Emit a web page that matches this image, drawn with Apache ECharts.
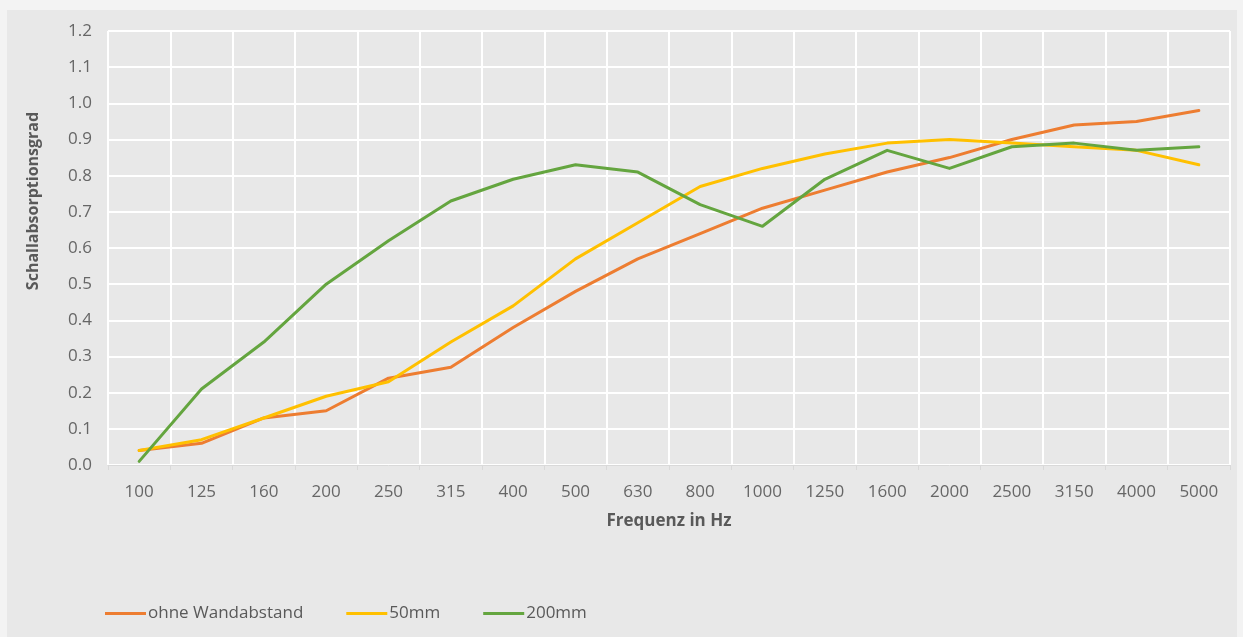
<!DOCTYPE html>
<html>
<head>
<meta charset="utf-8">
<script src="https://cdn.jsdelivr.net/npm/echarts@6/dist/echarts.min.js"></script>
<style>
html,body{margin:0;padding:0;background:#f3f3f3;}
#chart{width:1243px;height:637px;}
</style>
</head>
<body>
<div id="chart"></div>
<script>
const categories = ['100','125','160','200','250','315','400','500','630','800','1000','1250','1600','2000','2500','3150','4000','5000'];
const ohneWandabstand = [0.04,0.06,0.13,0.15,0.24,0.27,0.38,0.48,0.57,0.64,0.71,0.76,0.81,0.85,0.90,0.94,0.95,0.98];
const mm50 = [0.04,0.07,0.13,0.19,0.23,0.34,0.44,0.57,0.67,0.77,0.82,0.86,0.89,0.90,0.89,0.88,0.87,0.83];
const mm200 = [0.01,0.21,0.34,0.50,0.62,0.73,0.79,0.83,0.81,0.72,0.66,0.79,0.87,0.82,0.88,0.89,0.87,0.88];
const seriesNames = ['ohne Wandabstand','50mm','200mm'];

const FONT = 'Open Sans';
const chart = echarts.init(document.getElementById('chart'));
const mk = (name, data, color) => ({
  name, type: 'line', data, symbol: 'none', smooth: false,
  lineStyle: {color, width: 3, cap: 'round', join: 'round'},
  itemStyle: {color}
});
chart.setOption({
  backgroundColor: '#f3f3f3',
  animation: false,
  graphic: [{type:'rect', shape:{x:7,y:10,width:1230,height:627}, style:{fill:'#e8e8e8'}, z:-10, silent:true}],
  grid: {left:108, right:13, top:31, bottom:172, containLabel:false},
  legend: {
    left: 105, top: 605, padding: 0, itemGap: 43, itemWidth: 41, itemHeight: 3,
    icon: 'rect',
    textStyle: {fontFamily: FONT, fontSize: 17, color: '#595959', padding: [0,0,0,-3]},
    data: seriesNames
  },
  xAxis: {
    type: 'category', data: categories, boundaryGap: true,
    name: 'Frequenz in Hz', nameLocation: 'middle', nameGap: 48,
    nameTextStyle: {fontFamily: FONT, fontSize: 17, fontWeight: 'bold', color: '#595959'},
    axisLine: {show: true, lineStyle: {color: '#d9d9d9', width: 1}},
    axisTick: {show: true, length: 5, lineStyle: {color: '#d9d9d9'}},
    axisLabel: {fontFamily: FONT, fontSize: 17, color: '#666666', margin: 19, interval: 0},
    splitLine: {show: true, interval: 0, lineStyle: {color: '#ffffff', width: 2}}
  },
  yAxis: {
    type: 'value', min: 0, max: 1.2, interval: 0.1,
    name: 'Schallabsorptionsgrad', nameLocation: 'middle', nameGap: 67, nameRotate: 90,
    nameTextStyle: {fontFamily: FONT, fontSize: 16, fontWeight: 'bold', color: '#595959', padding: [0,0,0,94]},
    axisLine: {show: false}, axisTick: {show: false},
    axisLabel: {fontFamily: FONT, fontSize: 17, color: '#666666', margin: 16, formatter: v => v.toFixed(1)},
    splitLine: {show: true, lineStyle: {color: '#ffffff', width: 2}}
  },
  series: [
    mk(seriesNames[0], ohneWandabstand, '#ed7d31'),
    mk(seriesNames[1], mm50, '#ffc000'),
    mk(seriesNames[2], mm200, '#64a53f')
  ]
});
</script>
</body>
</html>
